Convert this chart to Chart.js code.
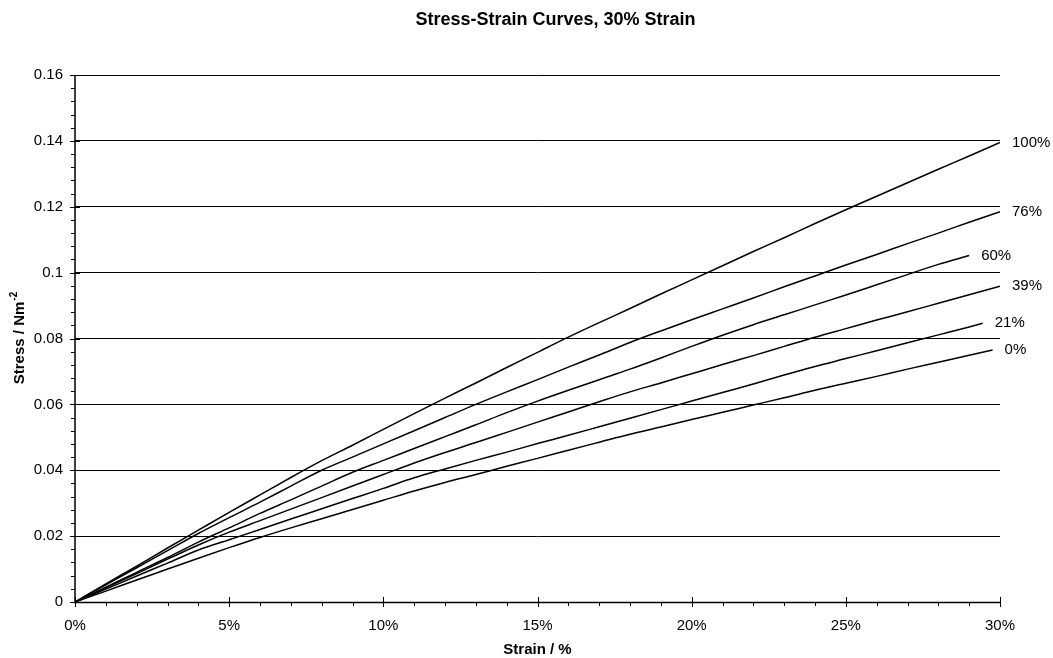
<!DOCTYPE html>
<html>
<head>
<meta charset="utf-8">
<script src="https://cdn.jsdelivr.net/npm/chart.js@4"></script>
<style>
  html, body { margin: 0; padding: 0; background: #ffffff; }
  #wrap { width: 1053px; height: 658px; }
</style>
</head>
<body>
<div id="wrap"><canvas id="c" width="1053" height="658"></canvas></div>
<script>
const titleText = 'Stress-Strain Curves, 30% Strain';
const xTitle = 'Strain / %';
const yTitleMain = 'Stress / Nm';
const yTitleSup = '-2';

const seriesLabels = ['100%', '76%', '60%', '39%', '21%', '0%'];
const strain = [0,1,2,3,4,5,6,7,8,9,10,11,12,13,14,15,16,17,18,19,20,21,22,23,24,25,26,27,28,29,30];
const endStrain = [30, 30, 29, 30, 29.44, 29.76];

const s100 = [0,0.0055,0.0109,0.0164,0.0218,0.0272,0.0325,0.0378,0.0429,0.0476,0.0524,0.0572,0.0619,0.0665,0.0712,0.0758,0.0804,0.0848,0.0891,0.0935,0.0978,0.1021,0.1064,0.1106,0.1149,0.1191,0.1232,0.1273,0.1314,0.1354,0.1395];
const s76 = [0,0.0052,0.0104,0.0156,0.0208,0.0256,0.0303,0.0352,0.0400,0.0440,0.0480,0.0520,0.0560,0.0600,0.0638,0.0675,0.0713,0.0750,0.0788,0.0823,0.0857,0.0890,0.0923,0.0957,0.0990,0.1023,0.1055,0.1088,0.1120,0.1153,0.1185];
const s60 = [0,0.0045,0.0090,0.0135,0.0182,0.0225,0.0269,0.0310,0.0352,0.0394,0.0430,0.0466,0.0502,0.0538,0.0575,0.0610,0.0643,0.0675,0.0707,0.0741,0.0776,0.0810,0.0842,0.0872,0.0902,0.0932,0.0963,0.0994,0.1025,0.1052];
const s39 = [0,0.0043,0.0086,0.0130,0.0173,0.0212,0.0247,0.0282,0.0317,0.0352,0.0387,0.0422,0.0454,0.0484,0.0515,0.0546,0.0577,0.0608,0.0638,0.0665,0.0693,0.0721,0.0748,0.0776,0.0804,0.0830,0.0856,0.0881,0.0907,0.0933,0.0959];
const s21 = [0,0.0039,0.0079,0.0118,0.0158,0.0189,0.0220,0.0252,0.0283,0.0314,0.0345,0.0377,0.0404,0.0430,0.0455,0.0481,0.0506,0.0532,0.0558,0.0584,0.0610,0.0636,0.0662,0.0689,0.0715,0.0739,0.0763,0.0787,0.0811,0.0835,0.0846];
const s0 = [0,0.0033,0.0067,0.0100,0.0133,0.0165,0.0196,0.0225,0.0253,0.0281,0.0309,0.0337,0.0363,0.0387,0.0412,0.0436,0.0461,0.0485,0.0509,0.0531,0.0554,0.0576,0.0598,0.0620,0.0643,0.0664,0.0685,0.0707,0.0728,0.0749,0.0765];

const xTickLabels = ['0%','5%','10%','15%','20%','25%','30%'];
const yTickLabels = ['0','0.02','0.04','0.06','0.08','0.1','0.12','0.14','0.16'];

const allSeries = [s100, s76, s60, s39, s21, s0];
const FONT = "'Liberation Sans', Arial, sans-serif";

function toPoints(values, k) {
  return values.map((v, i) => ({ x: i === values.length - 1 ? endStrain[k] : strain[i], y: v }));
}

const datasets = allSeries.map((vals, k) => ({
  label: seriesLabels[k],
  data: toPoints(vals, k),
  borderColor: '#000000',
  borderWidth: 1.5,
  pointRadius: 0,
  fill: false,
  cubicInterpolationMode: 'monotone'
}));

const decorPlugin = {
  id: 'decor',
  afterDraw(chart) {
    const ctx = chart.ctx;
    const xs = chart.scales.x, ys = chart.scales.y;
    const area = chart.chartArea;
    ctx.save();
    ctx.strokeStyle = '#000';
    ctx.lineWidth = 1;
    // x tick marks
    for (let i = 0; i <= 30; i++) {
      const px = Math.round(xs.getPixelForValue(i)) + 0.5;
      ctx.beginPath();
      if (i % 5 === 0) { ctx.moveTo(px, area.bottom - 5); ctx.lineTo(px, area.bottom + 5); }
      else { ctx.moveTo(px, area.bottom); ctx.lineTo(px, area.bottom + 4); }
      ctx.stroke();
    }
    // y tick marks
    for (let i = 0; i <= 40; i++) {
      const py = Math.round(ys.getPixelForValue(i * 0.004)) + 0.5;
      ctx.beginPath();
      if (i % 5 === 0) { ctx.moveTo(area.left - 5, py); ctx.lineTo(area.left + 5, py); }
      else { ctx.moveTo(area.left - 4, py); ctx.lineTo(area.left, py); }
      ctx.stroke();
    }
    // axis lines
    ctx.lineWidth = 1.5;
    ctx.beginPath();
    ctx.moveTo(area.left, area.top); ctx.lineTo(area.left, area.bottom + 0.5);
    ctx.lineTo(area.right, area.bottom + 0.5);
    ctx.stroke();

    ctx.fillStyle = '#000';
    // series end labels
    ctx.font = '15px ' + FONT;
    ctx.textAlign = 'left';
    ctx.textBaseline = 'middle';
    chart.data.datasets.forEach((ds) => {
      const last = ds.data[ds.data.length - 1];
      const px = xs.getPixelForValue(last.x);
      const py = ys.getPixelForValue(last.y);
      ctx.fillText(ds.label, px + 12, py);
    });

    // title
    const cx = (area.left + area.right) / 2;
    ctx.font = 'bold 18px ' + FONT;
    ctx.textAlign = 'center';
    ctx.textBaseline = 'alphabetic';
    ctx.fillText(titleText, cx + 18, 25);

    // x title
    ctx.font = 'bold 15px ' + FONT;
    ctx.fillText(xTitle, cx, 654);

    // y title with superscript
    const cy = (area.top + area.bottom) / 2;
    ctx.translate(24, cy);
    ctx.rotate(-Math.PI / 2);
    ctx.font = 'bold 15px ' + FONT;
    const w1 = ctx.measureText(yTitleMain).width;
    ctx.font = 'bold 10px ' + FONT;
    const w2 = ctx.measureText(yTitleSup).width;
    const start = -(w1 + w2) / 2;
    ctx.textAlign = 'left';
    ctx.font = 'bold 15px ' + FONT;
    ctx.fillText(yTitleMain, start, 0);
    ctx.font = 'bold 10px ' + FONT;
    ctx.fillText(yTitleSup, start + w1 + 1, -7);
    ctx.restore();
  }
};

new Chart(document.getElementById('c'), {
  type: 'line',
  data: { datasets },
  options: {
    responsive: false,
    animation: false,
    devicePixelRatio: 1,
    layout: { padding: { left: 0, right: 53, top: 75, bottom: 0 } },
    plugins: { legend: { display: false }, title: { display: false }, tooltip: { enabled: false } },
    scales: {
      x: {
        type: 'linear', min: 0, max: 30,
        afterFit(scale) { scale.height = 56; },
        grid: { display: false },
        border: { display: false },
        ticks: {
          stepSize: 5, color: '#000', padding: 7, maxRotation: 0,
          font: { family: FONT, size: 15 },
          callback: (v) => xTickLabels[Math.round(v / 5)]
        }
      },
      y: {
        type: 'linear', min: 0, max: 0.16,
        afterFit(scale) { scale.width = 75; },
        grid: { color: '#000', lineWidth: 1, drawTicks: false },
        border: { display: false },
        ticks: {
          stepSize: 0.02, color: '#000', padding: 12,
          font: { family: FONT, size: 15 },
          callback: (v) => yTickLabels[Math.round(v / 0.02)]
        }
      }
    }
  },
  plugins: [decorPlugin]
});
</script>
</body>
</html>
